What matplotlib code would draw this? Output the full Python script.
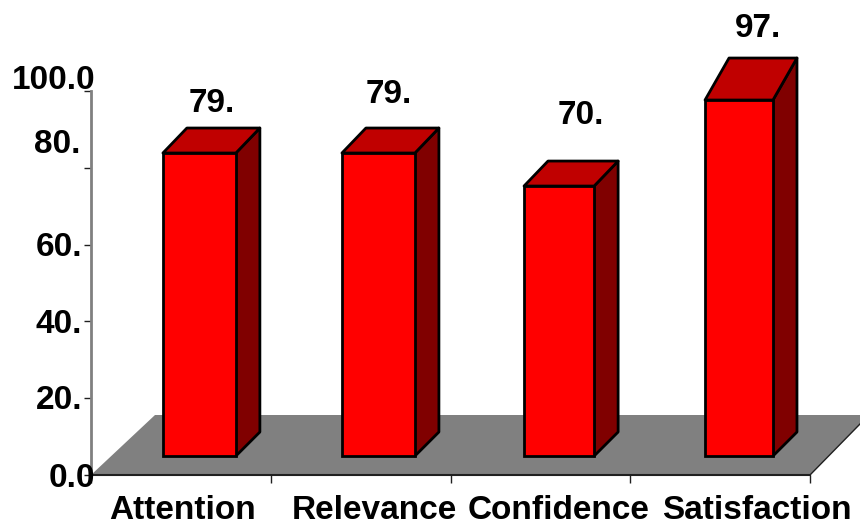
import matplotlib
matplotlib.use('Agg')
from matplotlib import pyplot as plt
from matplotlib.patches import Polygon

categories = ['Attention', 'Relevance', 'Confidence', 'Satisfaction']
value_labels = ['79.', '79.', '70.', '97.']
bar_heights = [78.9, 78.9, 70.3, 92.7]
y_values = [0, 20, 40, 60, 80, 100]
y_labels = ['0.0', '20.', '40.', '60.', '80.', '100.0']

bar_centers = [0.603, 1.599, 2.604, 3.605]
bar_widths = [0.406, 0.406, 0.39, 0.378]
top_depths = [25, 25, 25, 42]

# axes box in figure pixels
W, H = 860, 526
X0, X1 = 91, 810
Y0, Y1 = 475, 91
PX = 4 / (X1 - X0)
PY = 100 / (Y0 - Y1)
BASE = 19 * PY
DX = 24 * PX

plt.rcParams['font.family'] = ['Liberation Sans', 'DejaVu Sans']
plt.rcParams['font.weight'] = 'bold'
plt.rcParams['font.size'] = 24

fig = plt.figure(figsize=(W / 100, H / 100), dpi=100)
ax = fig.add_axes([X0 / W, 1 - Y0 / H, (X1 - X0) / W, (Y0 - Y1) / H])
ax.set_xlim(0, 4)
ax.set_ylim(0, 100)

# grey floor
floor = Polygon([(0, 0), (64 * PX, 60 * PY), (769 * PX, 60 * PY), (769 * PX, 51 * PY), (4, 0)],
                closed=True, fc='#808080', ec='none', clip_on=False, zorder=1)
ax.add_patch(floor)
ax.plot([4, 769 * PX], [0, 51 * PY], c='#202020', lw=1, clip_on=False, zorder=2)

for i in range(len(categories)):
    left = bar_centers[i] - bar_widths[i] / 2
    right = bar_centers[i] + bar_widths[i] / 2
    top = BASE + bar_heights[i]
    back = top + top_depths[i] * PY
    side = Polygon([(right, BASE), (right + DX, BASE + DX / PX * PY),
                    (right + DX, back), (right, top)],
                   closed=True, fc='#800000', ec='black', lw=2, joinstyle='round',
                   clip_on=False, zorder=3)
    roof = Polygon([(left, top), (left + DX, back), (right + DX, back), (right, top)],
                   closed=True, fc='#C00000', ec='black', lw=2, joinstyle='round',
                   clip_on=False, zorder=4)
    ax.add_patch(side)
    ax.add_patch(roof)

ax.bar(bar_centers, bar_heights, bar_widths, bottom=BASE, color='#FF0000',
       edgecolor='black', linewidth=2, clip_on=False, zorder=5)

for s in ['top', 'right']:
    ax.spines[s].set_visible(False)
ax.spines['left'].set_color('#808080')
ax.spines['left'].set_linewidth(2)
ax.spines['bottom'].set_color('#202020')
ax.spines['bottom'].set_linewidth(1.5)
ax.spines['bottom'].set_zorder(2)

ax.set_xticks([0, 1, 2, 3, 4])
ax.set_xticklabels([])
ax.set_yticks(y_values)
ax.set_yticklabels([])
ax.tick_params(axis='x', direction='out', length=6, width=1, color='#202020')
ax.tick_params(axis='y', direction='out', length=5, width=1, color='#202020')

# tick labels do not sit on their ticks in the original
ylabel_right = [95, 82, 82, 82, 80, 96]
ylabel_mid = [475, 397, 321, 244, 141, 77]
for i in range(len(y_labels)):
    fig.text(ylabel_right[i] / W, 1 - ylabel_mid[i] / H, y_labels[i],
             ha='right', va='center_baseline', zorder=6)

cat_mid = [183, 374, 559, 757]
cat_base = [519, 519, 519, 519]
for i in range(len(categories)):
    fig.text(cat_mid[i] / W, 1 - cat_base[i] / H, categories[i], ha='center', va='baseline')

val_mid = [212, 389, 581, 758]
val_y = [100, 91, 112, 25]
for i in range(len(value_labels)):
    fig.text(val_mid[i] / W, 1 - val_y[i] / H, value_labels[i], ha='center', va='center_baseline')

fig.savefig('out.png', dpi=100)
